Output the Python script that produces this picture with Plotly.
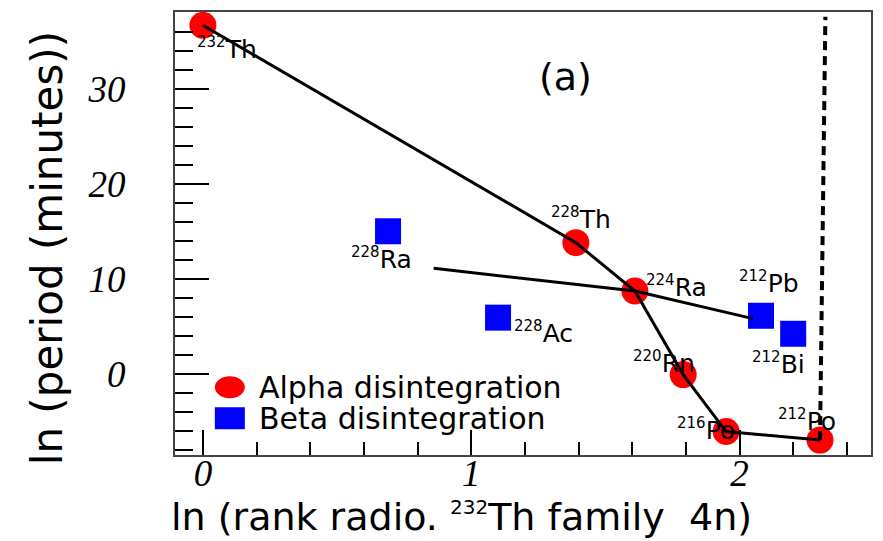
import plotly.graph_objects as go

# Nuclides of the 232Th (4n) radioactive family
alpha_names = ["232", "228", "224", "220", "216", "212"]
alpha_elem = ["Th", "Th", "Ra", "Rn", "Po", "Po"]
alpha_x = [0.0, 1.39, 1.61, 1.79, 1.95, 2.30]          # ln(rank)
alpha_y = [36.7, 13.8, 8.7, -0.1, -6.1, -7.0]           # ln(period in minutes)

beta_names = ["228", "228", "212", "212"]
beta_elem = ["Ra", "Ac", "Pb", "Bi"]
beta_x = [0.69, 1.10, 2.08, 2.20]
beta_y = [15.0, 5.9, 6.1, 4.2]

# guide line through the beta branch
beta_path_x = [0.86, 1.61, 2.05]
beta_path_y = [11.1, 8.7, 5.8]

# vertical dashed marker at the end of the chain
end_x = [2.30, 2.32]
end_y = [-7.0, 37.6]

x_ticks = [0, 1, 2]
y_ticks = [0, 10, 20, 30]

# label offsets in pixels (dx, dy) for each nuclide
alpha_offsets = [(-8, -23), (-27, 24), (9, 5), (-52, 12), (-51, 2), (-44, 20)]
beta_offsets = [(-39, -27), (14, -15), (-24, 33), (-43, -30)]

fig = go.Figure()

fig.add_trace(go.Scatter(
    x=alpha_x, y=alpha_y, mode="markers",
    marker=dict(symbol="circle", size=27, color="#ff0000", line=dict(width=0)),
    showlegend=False, hoverinfo="skip"))
fig.add_trace(go.Scatter(
    x=beta_x, y=beta_y, mode="markers",
    marker=dict(symbol="square", size=26, color="#0000ff", line=dict(width=0)),
    showlegend=False, hoverinfo="skip"))

# chain lines drawn on top of the markers
fig.add_trace(go.Scatter(
    x=alpha_x, y=alpha_y, mode="lines",
    line=dict(color="black", width=3), showlegend=False, hoverinfo="skip"))
fig.add_trace(go.Scatter(
    x=beta_path_x, y=beta_path_y, mode="lines",
    line=dict(color="black", width=3), showlegend=False, hoverinfo="skip"))
fig.add_trace(go.Scatter(
    x=end_x, y=end_y, mode="lines",
    line=dict(color="black", width=4, dash="9px,6px"),
    showlegend=False, hoverinfo="skip"))

label_font = dict(family="DejaVu Sans", size=25, color="black")


def nuclide_label(mass, elem):
    return f"<sup><span style='font-size:15px'>{mass}</span></sup>{elem}"


annotations = []
for mass, elem, x, y, (dx, dy) in zip(alpha_names, alpha_elem, alpha_x, alpha_y, alpha_offsets):
    annotations.append(dict(x=x, y=y, xref="x", yref="y", text=nuclide_label(mass, elem),
                            showarrow=False, xanchor="left", yanchor="middle",
                            xshift=dx, yshift=dy, font=label_font))
for mass, elem, x, y, (dx, dy) in zip(beta_names, beta_elem, beta_x, beta_y, beta_offsets):
    annotations.append(dict(x=x, y=y, xref="x", yref="y", text=nuclide_label(mass, elem),
                            showarrow=False, xanchor="left", yanchor="middle",
                            xshift=dx, yshift=dy, font=label_font))

# panel tag
annotations.append(dict(x=0.5616, y=0.854, xref="paper", yref="paper", text="(a)",
                        showarrow=False, xanchor="center", yanchor="middle",
                        font=dict(family="DejaVu Sans", size=38, color="black")))

# axis titles
annotations.append(dict(x=-0.182, y=0.4674, xref="paper", yref="paper",
                        text="ln (period (minutes))", textangle=-90,
                        showarrow=False, xanchor="center", yanchor="middle",
                        font=dict(family="DejaVu Sans", size=42, color="black")))
annotations.append(dict(x=0.411, y=-0.14, xref="paper", yref="paper",
                        text="ln (rank radio. <sup><span style='font-size:20px'>232</span></sup>"
                             "Th family\u00a0\u00a04n)",
                        showarrow=False, xanchor="center", yanchor="middle",
                        font=dict(family="DejaVu Sans", size=38, color="black")))

# legend
legend_font = dict(family="DejaVu Sans", size=30, color="black")
annotations.append(dict(x=0.1175, y=0.153, xref="paper", yref="paper",
                        text="Alpha disintegration", showarrow=False,
                        xanchor="left", yanchor="middle", font=legend_font))
annotations.append(dict(x=0.1175, y=0.083, xref="paper", yref="paper",
                        text="Beta disintegration", showarrow=False,
                        xanchor="left", yanchor="middle", font=legend_font))

shapes = [
    dict(type="circle", xref="paper", yref="paper", xsizemode="pixel", ysizemode="pixel",
         xanchor=0.0788, yanchor=0.153, x0=-15, x1=15, y0=-11, y1=11,
         fillcolor="#ff0000", line=dict(width=0)),
    dict(type="rect", xref="paper", yref="paper", xsizemode="pixel", ysizemode="pixel",
         xanchor=0.0788, yanchor=0.083, x0=-15, x1=15, y0=-11, y1=11,
         fillcolor="#0000ff", line=dict(width=0)),
]

tick_font = dict(family="Liberation Serif", size=37, color="black", style="italic")

fig.update_layout(
    width=883, height=541,
    margin=dict(l=175, r=10, t=10, b=86),
    paper_bgcolor="white", plot_bgcolor="white",
    annotations=annotations, shapes=shapes,
    showlegend=False,
    xaxis=dict(range=[-0.104, 2.49], tickvals=x_ticks, ticktext=[str(v) for v in x_ticks],
               ticks="inside", ticklen=25, tickwidth=2, tickcolor="black",
               minor=dict(dtick=0.2, tick0=0, ticks="inside", ticklen=13, tickwidth=2,
                          tickcolor="black", showgrid=False),
               showgrid=False, zeroline=False, showline=True, mirror=True,
               linecolor="#444", linewidth=2, tickfont=tick_font, ticklabelstandoff=-15),
    yaxis=dict(range=[-8.57, 38.1], tickvals=y_ticks, ticktext=[str(v) for v in y_ticks],
               ticks="inside", ticklen=34, tickwidth=2, tickcolor="black",
               minor=dict(dtick=2, tick0=0, ticks="inside", ticklen=18, tickwidth=2,
                          tickcolor="black", showgrid=False),
               showgrid=False, zeroline=False, showline=True, mirror=True,
               linecolor="#444", linewidth=2, tickfont=tick_font, ticklabelstandoff=40),
)

fig.write_html("out.html")
